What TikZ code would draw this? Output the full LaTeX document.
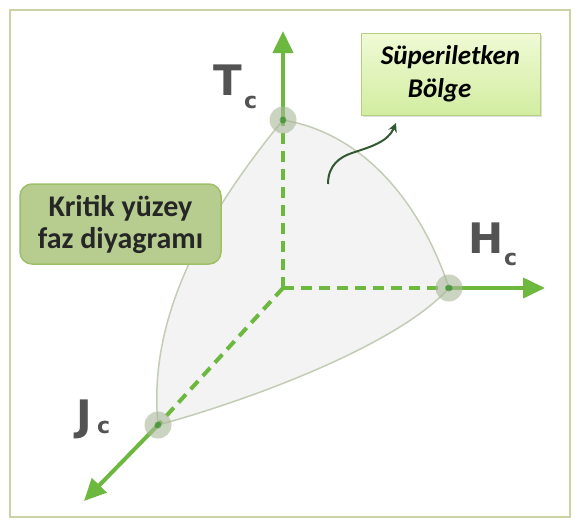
\documentclass[tikz,border=0pt]{standalone}
\usepackage{fontspec}
\setmainfont{Carlito}
\newfontfamily\labfont{DejaVu Sans}
\usetikzlibrary{arrows.meta,shadows}
\definecolor{axisgreen}{HTML}{6DB83F}
\definecolor{surfline}{HTML}{C3CDB5}
\definecolor{surffill}{HTML}{F3F3F3}
\definecolor{labgray}{HTML}{535353}
\definecolor{boxgreen}{HTML}{B7CD8F}
\definecolor{boxedge}{HTML}{9DBF6A}
\definecolor{lighttop}{HTML}{F0FAD6}
\definecolor{lightbot}{HTML}{D2EDA0}
\definecolor{lightedge}{HTML}{B5D080}
\definecolor{frameline}{HTML}{C9D3A4}
\definecolor{ptfill}{HTML}{A9B899}
\begin{document}
\begin{tikzpicture}[x=1pt,y=-1pt,
  axis/.style={draw=axisgreen,line width=4pt},
  dashaxis/.style={axis,dash pattern=on 11pt off 7pt},
  tip/.style={-{Triangle[length=22pt,width=20pt]}},
  critpt/.style={circle,minimum size=27pt,inner sep=0pt,fill=ptfill,fill opacity=0.6,draw=none},
  ptlabel/.style={text=labgray,font=\labfont\fontsize{42}{42}\selectfont\bfseries,inner sep=0pt},
  sub/.style={text=labgray,font=\labfont\fontsize{22}{22}\selectfont\bfseries,inner sep=0pt}
]
\useasboundingbox (0,0) rectangle (580,523);
\fill[white] (0,0) rectangle (580,523);
\draw[frameline,line width=1.5pt] (10,10) rectangle (570,517);

% coordinates
\coordinate (O) at (283,288);
\coordinate (Tc) at (283,120);
\coordinate (Hc) at (449,288);
\coordinate (Jc) at (158,425);
\coordinate (Ttip) at (283,31);
\coordinate (Htip) at (545,288);
\coordinate (Jtip) at (84,501);

% critical surface
\path[fill=surffill,draw=surfline,line width=1.5pt]
  (Tc) .. controls (372,135) and (425,215) .. (Hc)
       .. controls (398,345) and (250,400) .. (Jc)
       .. controls (150,340) and (180,245) .. (Tc) -- cycle;

% axes
\draw[dashaxis] (O) -- (Tc);
\draw[dashaxis] (O) -- (Hc);
\draw[dashaxis] (O) -- (Jc);
\draw[axis,tip] (Tc) -- (Ttip);
\draw[axis,tip] (Hc) -- (Htip);
\draw[axis,tip] (Jc) -- (Jtip);

% critical points
\node[critpt] (pT) at (Tc) {};
\node[critpt] (pH) at (Hc) {};
\node[critpt] (pJ) at (Jc) {};
\fill[green!45!black,opacity=0.45] (Tc) circle (3.5pt) (Hc) circle (3.5pt) (Jc) circle (3.5pt);

% labels
\node[ptlabel,anchor=base] (lT) at (228,95) {T};
\node[sub,anchor=base west] (lTs) at (244,108) {c};
\node[ptlabel,anchor=base] (lH) at (486,253) {H};
\node[sub,anchor=base west] (lHs) at (504,265) {c};
\node[ptlabel,anchor=base] (lJ) at (84,430) {J};
\node[sub,anchor=base west] (lJs) at (97,433) {c};

% Superconducting region box
\node[draw=lightedge,line width=1pt,top color=lighttop,bottom color=lightbot,
      minimum width=179pt,minimum height=82pt,inner sep=0pt,
      drop shadow={shadow xshift=1.5pt,shadow yshift=-1.5pt,opacity=0.25},
      font=\fontsize{27}{33}\selectfont\bfseries\itshape,align=left] (sb) at (450.5,74)
      {S\"uperiletken\\\hspace*{27pt}B\"olge};
\coordinate (cs) at (328,184);
\coordinate (ce) at (396,123);
\draw[draw=black!75!green!60!gray,line width=2pt,-{Stealth[length=9pt,width=9pt]}]
  (cs) .. controls (328,165) and (340,157) .. (352,153) .. controls (370,147) and (388,142) .. (ce);

% Critical surface box
\node[draw=boxedge,fill=boxgreen,line width=1.5pt,rounded corners=12pt,
      minimum width=201pt,minimum height=80pt,inner sep=0pt,
      font=\fontsize{30}{32}\selectfont\bfseries,text=black!85,align=center] (kb) at (120.5,224)
      {Kritik y\"uzey\\faz diyagram\i};
\end{tikzpicture}
\end{document}
